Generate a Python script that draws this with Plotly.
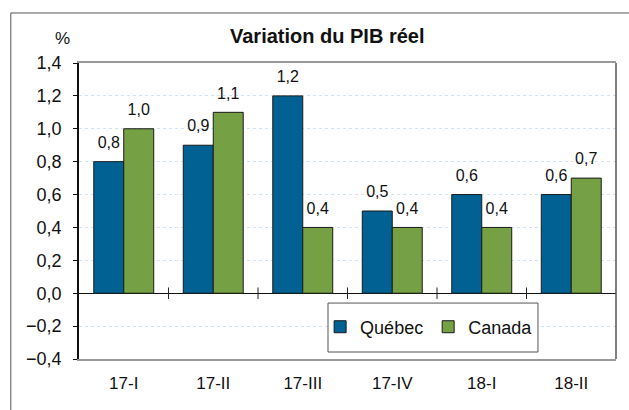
import plotly.graph_objects as go

# Trimestres et variation du PIB réel (%)
trimestres = ["17-I", "17-II", "17-III", "17-IV", "18-I", "18-II"]
quebec = [0.8, 0.9, 1.2, 0.5, 0.6, 0.6]
canada = [1.0, 1.1, 0.4, 0.4, 0.4, 0.7]

font = "Liberation Sans, Arial, sans-serif"
bleu, vert = "#006192", "#76A044"

fig = go.Figure()
for nom, vals, couleur in [("Québec", quebec, bleu), ("Canada", canada, vert)]:
    fig.add_trace(go.Bar(x=trimestres, y=vals, name=nom, offsetgroup=nom,
                         marker=dict(color=couleur, line=dict(color="#1a1a1a", width=1))))
    # étiquettes de valeurs (marqueur invisible pour décaler le texte vers le haut)
    fig.add_trace(go.Scatter(x=trimestres, y=vals, offsetgroup=nom, mode="markers+text",
                             marker=dict(size=14, opacity=0), showlegend=False,
                             texttemplate="%{y:.1f}", textposition="top center",
                             textfont=dict(size=16, color="#111"), cliponaxis=False,
                             hoverinfo="skip"))

# petites graduations entre les catégories sur la ligne zéro
shapes = []
for i in range(1, len(trimestres)):
    shapes.append(dict(type="line", xref="x", yref="y", x0=i - 0.5, x1=i - 0.5,
                       y0=-0.035, y1=0.035, line=dict(color="#222", width=1)))
# cadre extérieur du graphique
shapes.append(dict(type="rect", xref="paper", yref="paper", x0=-0.127, x1=1.1,
                   y0=-0.3, y1=1.169, line=dict(color="#555", width=1), layer="below"))
# bord droit de la zone de tracé
shapes.append(dict(type="line", xref="paper", yref="paper", x0=1, x1=1, y0=0, y1=1,
                   line=dict(color="#555", width=1.5)))
# cadre de la légende
shapes.append(dict(type="rect", xref="paper", yref="paper", x0=0.4637, x1=0.8547,
                   y0=0.0236, y1=0.189, line=dict(color="#555", width=1),
                   fillcolor="white", layer="above"))

fig.update_layout(
    width=629, height=410,
    margin=dict(l=79, r=13, t=63, b=51),
    paper_bgcolor="white", plot_bgcolor="white",
    font=dict(family=font, size=17, color="#111"),
    separators=", ",
    barmode="group", bargap=0.33, bargroupgap=0,
    scattermode="group", scattergap=0.33,
    showlegend=True,
    legend=dict(orientation="h", x=0.449, y=0.108, xanchor="left", yanchor="middle",
                borderwidth=0, bgcolor="rgba(0,0,0,0)",
                font=dict(size=18), tracegroupgap=0),
    shapes=shapes,
    annotations=[
        dict(text="<b>Variation du PIB réel</b>", xref="paper", yref="paper",
             x=0.463, y=1.0, yshift=27, yanchor="middle", showarrow=False,
             font=dict(size=20)),
        dict(text="%", xref="paper", yref="paper", x=-0.048, y=1.0, yshift=25,
             yanchor="middle", showarrow=False, font=dict(size=17)),
    ],
)
fig.update_yaxes(range=[-0.4, 1.4], dtick=0.2, tickformat=".1f",
                 showgrid=True, gridcolor="#d2e3f2", griddash="dot", gridwidth=1,
                 zeroline=True, zerolinecolor="#111", zerolinewidth=1.2,
                 showline=True, linecolor="#111", linewidth=1.5,
                 ticks="outside", ticklen=4, tickcolor="#111",
                 ticklabelstandoff=8, tickfont=dict(size=18))
fig.update_xaxes(showline=True, linecolor="#999", linewidth=2, mirror=True,
                 ticks="", ticklabelstandoff=8, tickfont=dict(size=17))

fig.write_html("out.html", config={"displayModeBar": False},
               post_script="document.body.style.margin='0';")
